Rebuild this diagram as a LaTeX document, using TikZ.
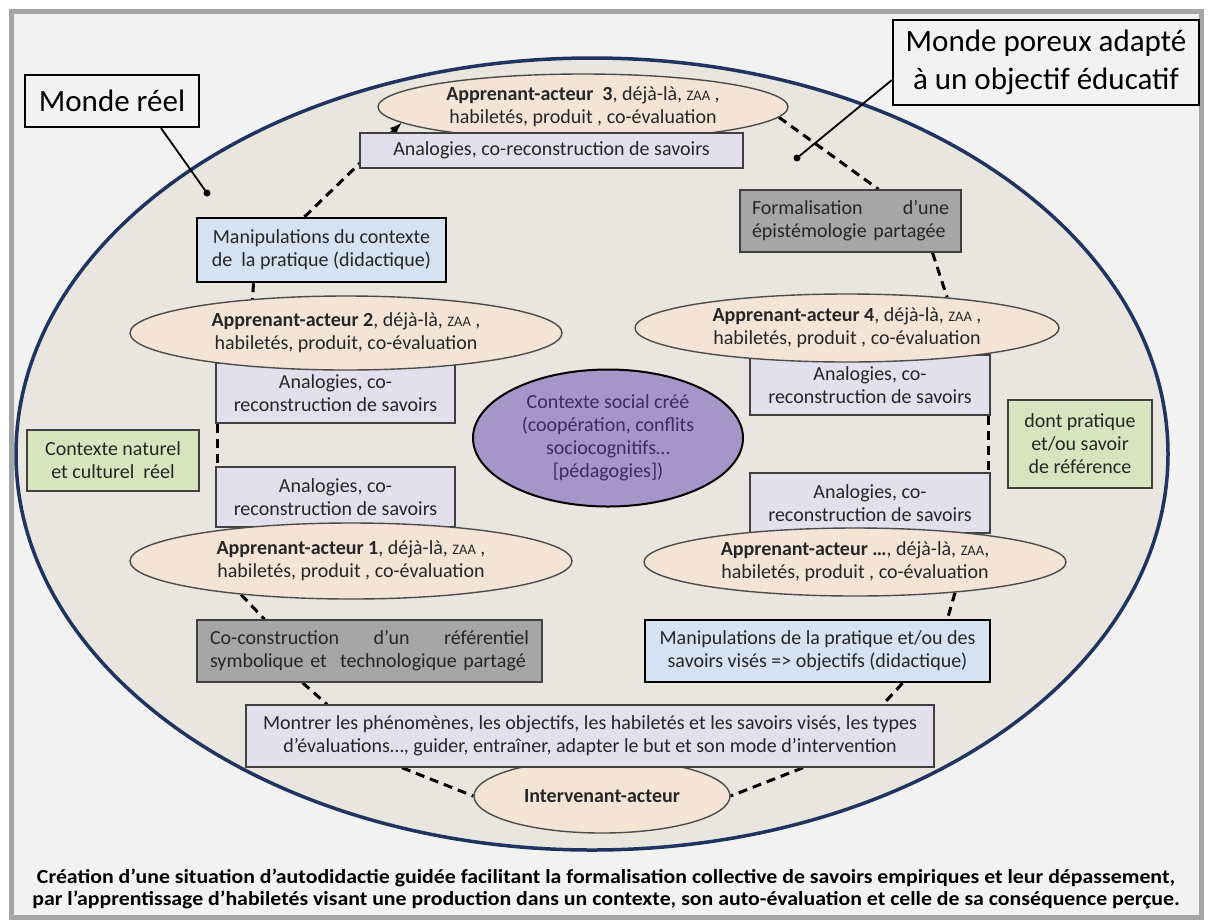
\documentclass[tikz,border=0pt]{standalone}
\usepackage{fontspec}
\setmainfont{Carlito}
\newfontfamily\capfont[Ligatures=TeX, FakeStretch=1.09]{Carlito}
\usetikzlibrary{shapes.geometric,arrows}
\definecolor{framegray}{HTML}{A5A5A5}
\definecolor{paper}{HTML}{F2F2F2}
\definecolor{worldfill}{HTML}{E8E6DF}
\definecolor{worldline}{HTML}{1F3560}
\definecolor{actorfill}{HTML}{F3E4D6}
\definecolor{analogyfill}{HTML}{E1E0EC}
\definecolor{manipfill}{HTML}{D4E2F2}
\definecolor{formalfill}{HTML}{A6A6A6}
\definecolor{contextfill}{HTML}{D8E4BE}
\definecolor{socialfill}{HTML}{A496C8}
\definecolor{socialtext}{HTML}{3B2A66}
\pgfdeclarelayer{back}
\pgfdeclarelayer{ring}
\pgfsetlayers{back,ring,main}
\newcommand{\zaa}{{\fontsize{14.5}{14.5}\selectfont ZAA}}
\tikzset{
    raw entry/.style={rectangle, draw=black!75, line width=1.4pt, align=center, inner sep=0pt, text=black!85, font=\fontsize{20}{23}\selectfont},
    analogy entry/.style={raw entry, fill=analogyfill},
    manip entry/.style={raw entry, fill=manipfill, draw=black, line width=2.4pt},
    formal entry/.style={raw entry, fill=formalfill},
    context entry/.style={raw entry, fill=contextfill},
    world label/.style={rectangle, draw=black, line width=2.2pt, fill=paper, align=center, inner sep=0pt, font=\fontsize{31}{38}\selectfont},
    actor/.style={ellipse, draw=black!70, line width=1.4pt, fill=actorfill, inner sep=0pt, align=center, text=black!85, font=\fontsize{20}{23}\selectfont},
    social/.style={ellipse, draw=black, line width=2pt, fill=socialfill, inner sep=0pt, align=center, text=socialtext, font=\fontsize{20}{23}\selectfont},
    world/.style={ellipse, draw=worldline, line width=3.5pt, fill=worldfill, inner sep=0pt},
    pin dot/.style={circle, fill=black, inner sep=0pt, minimum size=7pt},
    ring/.style={line width=3pt, dash pattern=on 9pt off 6pt},
    pointer/.style={line width=1.8pt},
    caption/.style={align=center, inner sep=0pt, font=\capfont\bfseries\fontsize{20}{22.5}\selectfont}
}

\begin{document}
\begin{tikzpicture}[x=1pt, y=-1pt, >=latex]
\useasboundingbox (0,0) rectangle (1212,922);
\begin{pgfonlayer}{back}
    \fill[white] (0,0) rectangle (1212,922);
    \draw[line width=5pt, draw=framegray, fill=paper] (11,11) rectangle (1201,917);
    \node[world, minimum width=1152pt, minimum height=792pt] (world) at (592,454) {};
\end{pgfonlayer}

% labels of the two worlds
\node[world label, minimum width=174pt, minimum height=52pt] (mreel) at (112,101) {Monde réel};
\node[world label, minimum width=306pt, minimum height=85pt] (mporeux) at (1046,62.5) {Monde poreux adapté\\à un objectif éducatif};
\node[pin dot] (dotreel) at (207,193) {};
\node[pin dot] (dotporeux) at (797,158) {};

% top of the ring
\node[actor, minimum width=410pt, minimum height=66pt] (ap3) at (583,107) {\textbf{Apprenant-acteur \ 3}, déjà-là, \zaa\ ,\\habiletés, produit , co-évaluation};
\node[analogy entry, minimum width=383pt, minimum height=35pt] (antop) at (551.5,150.5) {Analogies, co-reconstruction de savoirs};
\node[manip entry, minimum width=249pt, minimum height=64pt] (manc) at (321.5,250) {Manipulations du contexte\\de \ la pratique (didactique)};
\node[formal entry, text width=197pt, minimum width=221pt, minimum height=62pt, align=left] (form) at (850.5,221) {Formalisation\hfill d'une\\épistémologie partagée};

% left and right sides
\node[analogy entry, minimum width=239pt, minimum height=60pt] (anl1) at (335.5,393) {Analogies, co-\\reconstruction de savoirs};
\node[actor, minimum width=432pt, minimum height=74pt] (ap2) at (346,333) {\textbf{Apprenant-acteur 2}, déjà-là, \zaa\ ,\\habiletés, produit, co-évaluation};
\node[analogy entry, minimum width=239pt, minimum height=60pt] (anl2) at (335.5,497) {Analogies, co-\\reconstruction de savoirs};
\node[actor, minimum width=442pt, minimum height=76pt] (ap1) at (351,561) {\textbf{Apprenant-acteur 1}, déjà-là, \zaa\ ,\\habiletés, produit , co-évaluation};

\node[analogy entry, minimum width=240pt, minimum height=60pt] (anr1) at (870,385) {Analogies, co-\\reconstruction de savoirs};
\node[actor, minimum width=424pt, minimum height=68pt] (ap4) at (847,328) {\textbf{Apprenant-acteur 4}, déjà-là, \zaa\ ,\\habiletés, produit , co-évaluation};
\node[analogy entry, minimum width=240pt, minimum height=60pt] (anr2) at (870,503) {Analogies, co-\\reconstruction de savoirs};
\node[actor, minimum width=422pt, minimum height=68pt] (apn) at (855,562) {\textbf{Apprenant-acteur …}, déjà-là, \zaa,\\habiletés, produit , co-évaluation};

\node[context entry, minimum width=172pt, minimum height=61pt] (natural) at (113,460.5) {Contexte naturel\\et culturel \ réel};
\node[context entry, minimum width=144pt, minimum height=88pt] (reference) at (1080,444) {dont pratique\\et/ou savoir\\de référence};
\node[social, minimum width=270pt, minimum height=137pt] (social) at (608,438) {Contexte social créé\\(coopération, conflits\\sociocognitifs…\\{[}pédagogies{]})};

% bottom of the ring
\node[formal entry, text width=319pt, minimum width=345pt, minimum height=62pt, align=left] (coco) at (369.5,651) {Co-construction\hfill d'un\hfill référentiel\\symbolique et \ technologique partagé};
\node[manip entry, minimum width=345pt, minimum height=62pt] (manp) at (817.5,651) {Manipulations de la pratique et/ou des\\savoirs visés => objectifs (didactique)};
\node[actor, minimum width=256pt, minimum height=74pt] (interv) at (602,796) {\textbf{Intervenant-acteur}};
\node[analogy entry, minimum width=688pt, minimum height=62pt] (show) at (590,736) {Montrer les phénomènes, les objectifs, les habiletés et les savoirs visés, les types\\d'évaluations…, guider, entraîner, adapter le but et son mode d'intervention};

\node[caption] (caption) at (606,889) {Création d'une situation d'autodidactie guidée facilitant la formalisation collective de savoirs empiriques et leur dépassement,\\par l'apprentissage d'habiletés visant une production dans un contexte, son auto-évaluation et celle de sa conséquence perçue.};

\begin{pgfonlayer}{ring}
    \draw[pointer] ([xshift=49pt]mreel.south) -- (dotreel.center);
    \draw[pointer] ([yshift=-17.5pt]mporeux.west) -- (dotporeux.center);
    \draw[ring] (ap3.-3) -- ([xshift=28pt]form.north);
    \draw[ring] ([xshift=82pt]form.south) -- (ap4.17);
    \draw[ring] ([xshift=-2pt]anr1.south east) -- ([xshift=-2pt]anr2.north east);
    \draw[ring] (apn.-17) -- ([xshift=130pt]manp.north);
    \draw[ring] ([xshift=85pt]manp.south) -- ([xshift=293pt]show.north);
    \draw[ring] ([xshift=213pt]show.south) -- (interv.east);
    \draw[ring] ([xshift=-188pt]show.south) -- (interv.west);
    \draw[ring] ([xshift=-67pt]coco.south) -- ([xshift=-263pt]show.north);
    \draw[ring] (ap1.197) -- ([xshift=-105pt]coco.north);
    \draw[ring] ([xshift=2pt]anl1.south west) -- ([xshift=2pt]anl2.north west);
    \draw[ring] ([xshift=-68pt]manc.south) -- (ap2.160);
    \draw[ring, ->] ([xshift=-17pt]manc.north) -- (ap3.185);
\end{pgfonlayer}
\end{tikzpicture}
\end{document}
